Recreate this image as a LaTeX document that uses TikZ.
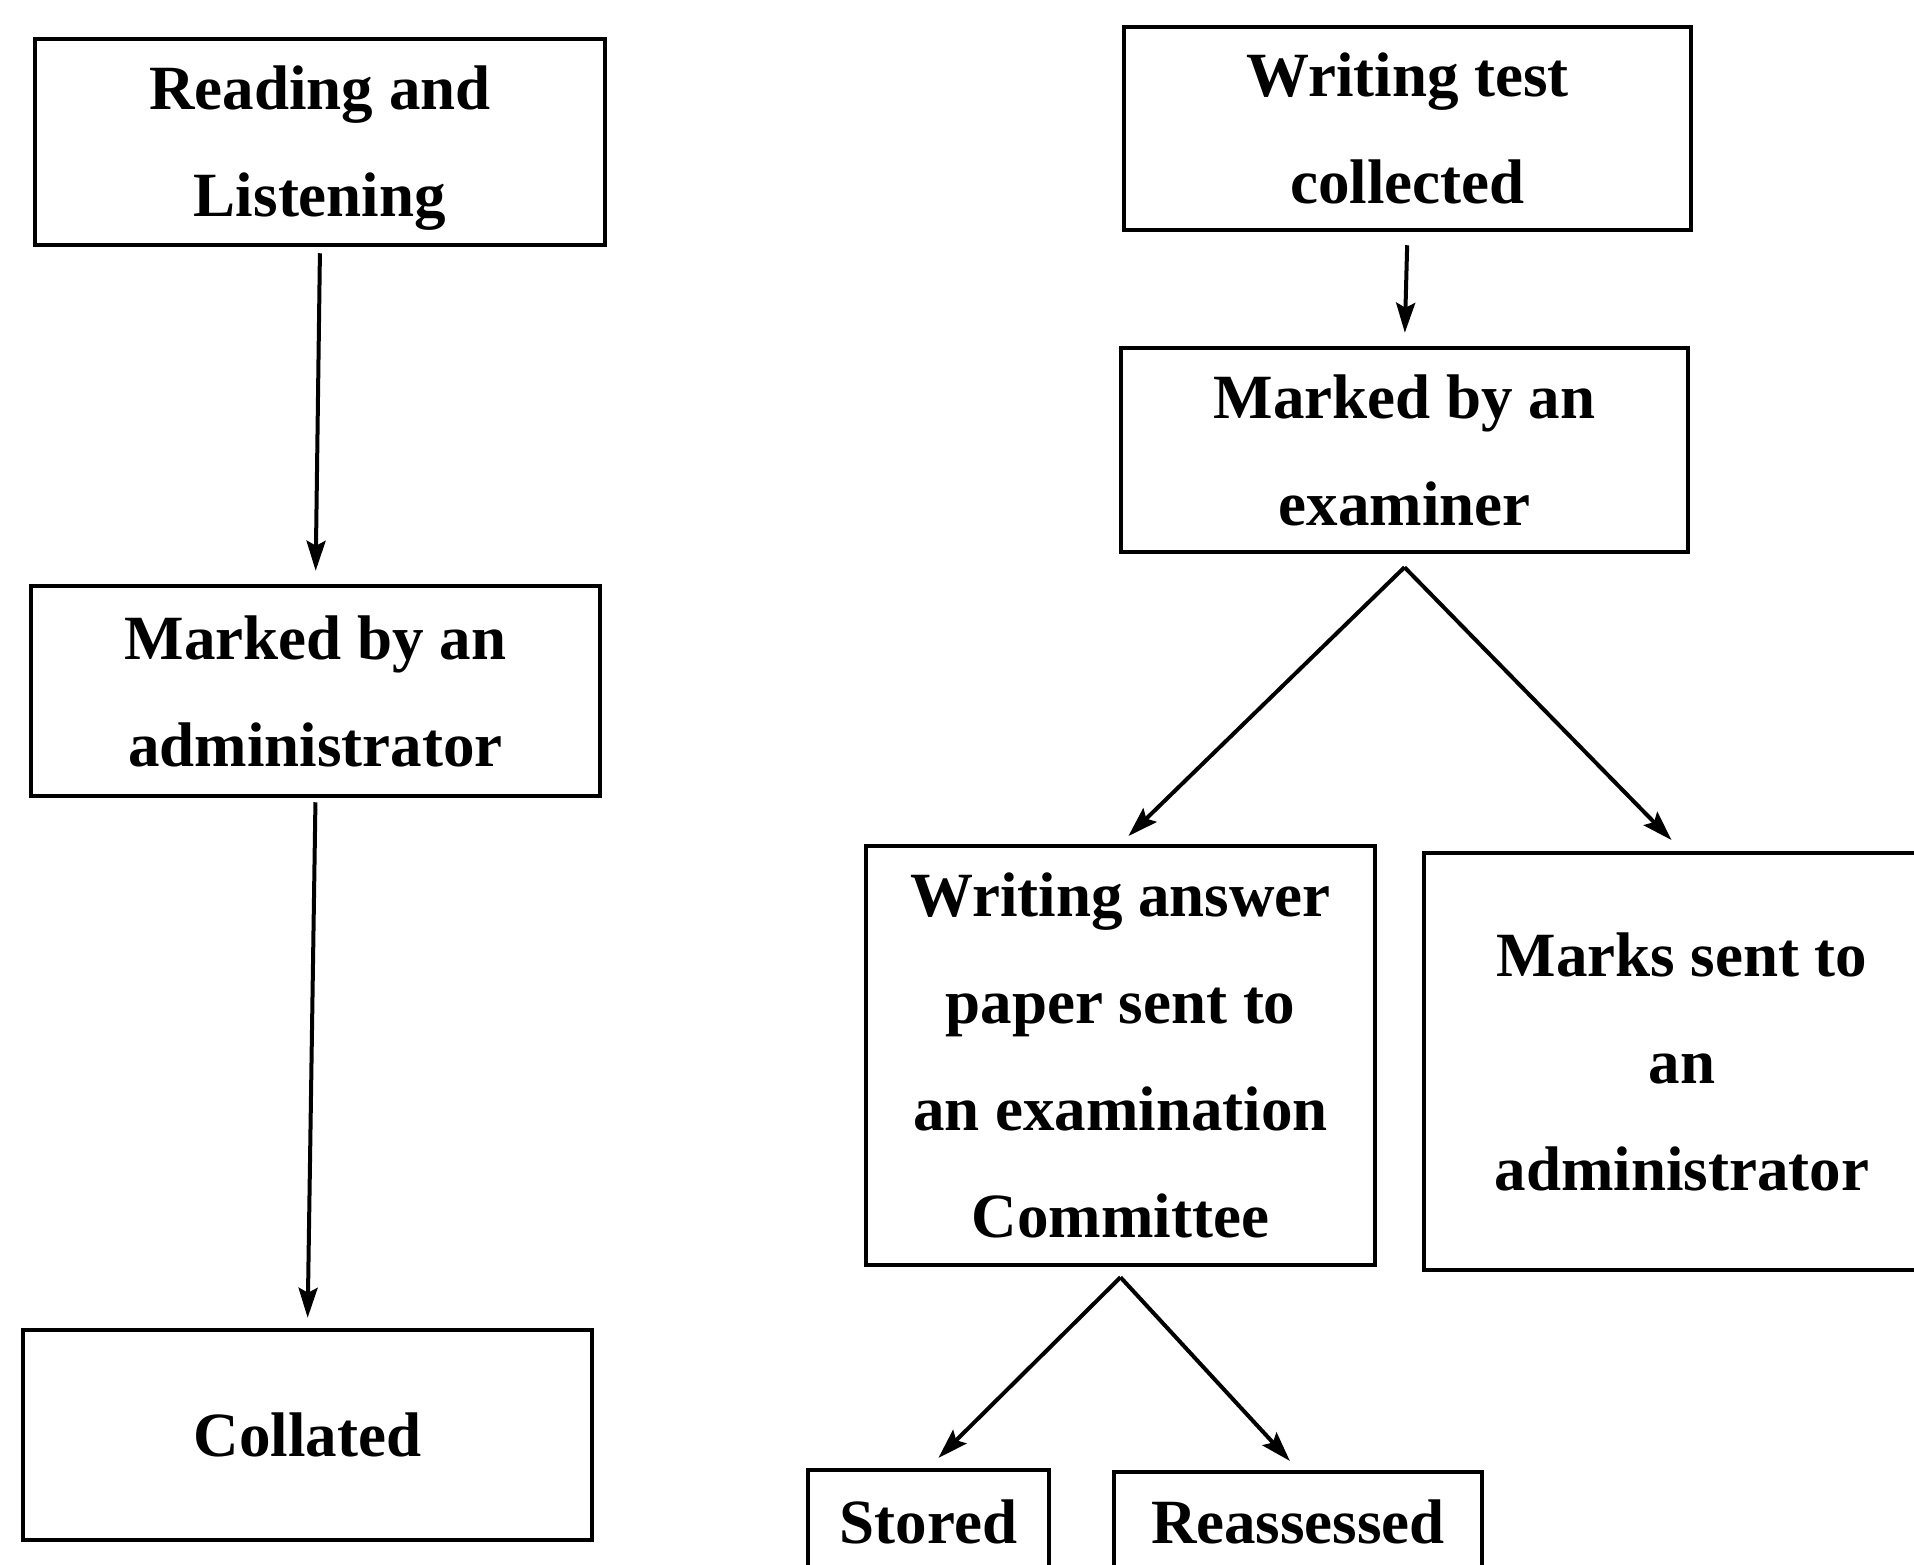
\documentclass[tikz,border=0pt]{standalone}
\usepackage{fontspec}
\setmainfont{Liberation Serif}
\usetikzlibrary{arrows.meta}
\begin{document}
\begin{tikzpicture}[x=1pt,y=-1pt,
  box/.style={draw, line width=4.5pt, rectangle, inner sep=0pt, align=center,
    font=\fontsize{63}{107}\selectfont\bfseries},
  arr/.style={line width=4pt, -{Stealth[length=30pt,width=19pt,inset=5pt]}}]
\useasboundingbox (0,0) rectangle (1914,1564);
\fill[white] (0,0) rectangle (1914,1564);
\clip (0,0) rectangle (1914,1564);
% left column
\node[box, minimum width=570pt, minimum height=206pt, text height=162pt] (A) at (320,142) {Reading and\\Listening};
\node[box, minimum width=569pt, minimum height=210pt] (B) at (315.5,691) {Marked by an\\administrator};
\node[box, minimum width=569pt, minimum height=210pt] (C) at (307.5,1435) {Collated};
% right column
\node[box, minimum width=567pt, minimum height=203pt] (D) at (1407.5,128.5) {Writing test\\collected};
\node[box, minimum width=567pt, minimum height=204pt] (E) at (1404.5,450) {Marked by an\\examiner};
\node[box, minimum width=509pt, minimum height=419pt] (F) at (1120.5,1055.5) {Writing answer\\paper sent to\\an examination\\Committee};
\node[box, minimum width=516pt, minimum height=417pt] (G) at (1682,1061.5) {Marks sent to\\an\\administrator};
\node[box, minimum width=241pt, minimum height=104pt] (H) at (928.5,1522) {Stored};
\node[box, minimum width=368pt, minimum height=100pt] (I) at (1298,1522) {Reassessed};
% branching points just below the parent boxes
\coordinate (E0) at ([yshift=-13pt]E.south);
\coordinate (F0) at ([yshift=-10pt]F.south);
% connectors
\draw[arr, shorten <=6pt, shorten >=13pt] (A.south) -- (B.north);
\draw[arr, shorten <=4pt, shorten >=10pt] (B.south) -- (C.north);
\draw[arr, shorten <=13pt, shorten >=13pt] (D.south) -- (E.north);
\draw[arr, shorten >=11pt] (E0) -- (F.north);
\draw[arr, shorten >=15pt] (E0) -- (G.north);
\draw[arr, shorten >=14pt] (F0) -- (H.north);
\draw[arr, shorten >=12pt] (F0) -- (I.north);
\end{tikzpicture}
\end{document}
